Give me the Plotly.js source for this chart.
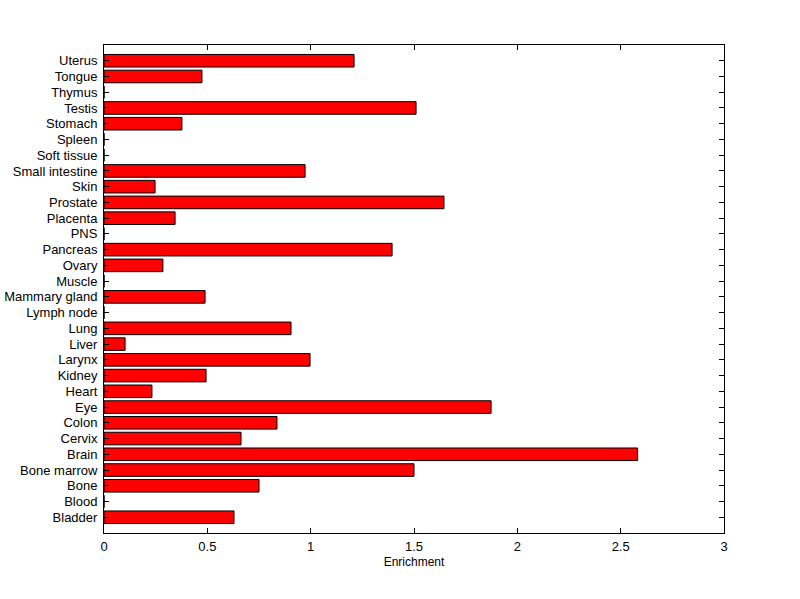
<!DOCTYPE html>
<html>
<head>
<meta charset="utf-8">
<script src="https://cdn.plot.ly/plotly-3.0.1.min.js"></script>
<style>html,body{margin:0;padding:0;background:#fff;}#chart{width:800px;height:599px;}</style>
</head>
<body>
<div id="chart"></div>
<script>
const tissues = ["Bladder","Blood","Bone","Bone marrow","Brain","Cervix","Colon","Eye","Heart","Kidney","Larynx","Liver","Lung","Lymph node","Mammary gland","Muscle","Ovary","Pancreas","PNS","Placenta","Prostate","Skin","Small intestine","Soft tissue","Spleen","Stomach","Testis","Thymus","Tongue","Uterus"];
const enrichment = [0.629,0,0.75,1.5,2.582,0.663,0.837,1.873,0.232,0.494,0.997,0.102,0.905,0,0.489,0,0.285,1.394,0,0.344,1.645,0.247,0.973,0,0,0.377,1.51,0,0.474,1.21];
const xTicks = [0,0.5,1,1.5,2,2.5,3];
const xTickText = ["0","0.5","1","1.5","2","2.5","3"];

const trace = {
  type: 'bar',
  orientation: 'h',
  y: tissues.map((_, i) => i),
  x: enrichment,
  width: 0.8,
  marker: {color: '#ff0000', line: {color: '#000000', width: 1}},
  hoverinfo: 'x+text',
  text: tissues,
  textposition: 'none'
};

const layout = {
  width: 800, height: 599,
  margin: {l: 104, r: 76, t: 45, b: 66},
  paper_bgcolor: '#ffffff', plot_bgcolor: '#ffffff',
  font: {family: 'Liberation Sans, Arial, sans-serif', size: 13, color: '#000'},
  showlegend: false,
  xaxis: {
    range: [0, 3], tickvals: xTicks, ticktext: xTickText,
    ticks: 'inside', ticklen: 5, tickcolor: '#000', tickwidth: 1,
    showgrid: false, zeroline: false,
    showline: true, linecolor: '#000', linewidth: 1, mirror: 'ticks',
    title: {text: 'Enrichment', font: {size: 12}, standoff: 5},
    tickfont: {size: 13}, ticklabelstandoff: 1
  },
  yaxis: {
    range: [-1, 30], tickvals: tissues.map((_, i) => i), ticktext: tissues,
    ticks: 'inside', ticklen: 5, tickcolor: '#000', tickwidth: 1,
    showgrid: false, zeroline: false,
    showline: true, linecolor: '#000', linewidth: 1, mirror: 'ticks',
    tickfont: {size: 13}, ticklabelstandoff: 3
  }
};

Plotly.newPlot('chart', [trace], layout, {displayModeBar: false, staticPlot: true});
</script>
</body>
</html>
